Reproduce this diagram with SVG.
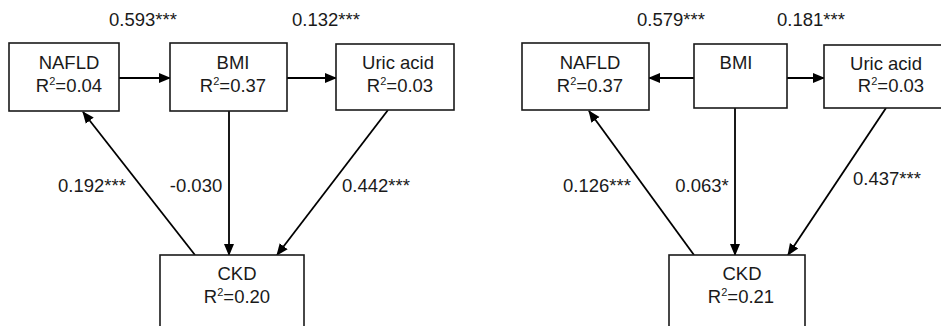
<svg xmlns="http://www.w3.org/2000/svg" width="941" height="326" viewBox="0 0 941 326">
<style>
text{font-family:"Liberation Sans",Arial,sans-serif;font-size:18.5px;fill:#1a1a1a}
.box{fill:#fff;stroke:#1a1a1a;stroke-width:1.6}
.c{text-anchor:middle}
.ln{stroke:#000;stroke-width:1.8;fill:none}
.lh{stroke:#000;stroke-width:2.2;fill:none}
</style>
<defs>
<marker id="ah" markerUnits="userSpaceOnUse" markerWidth="12" markerHeight="12" viewBox="0 0 12 10" refX="11" refY="5" orient="auto">
<path d="M0,0 L12,5 L0,10 z" fill="#000"/>
</marker>
</defs>
<rect width="941" height="326" fill="#fff"/>
<g id="connectors">
<line class="lh" x1="119" y1="78" x2="170" y2="78" marker-end="url(#ah)"/>
<line class="lh" x1="287" y1="78" x2="336" y2="78" marker-end="url(#ah)"/>
<line class="ln" x1="195" y1="255" x2="83" y2="112" marker-end="url(#ah)"/>
<line class="ln" x1="229" y1="111" x2="229" y2="255" marker-end="url(#ah)"/>
<line class="ln" x1="388" y1="110" x2="277" y2="255" marker-end="url(#ah)"/>
<line class="lh" x1="694" y1="78" x2="649" y2="78" marker-end="url(#ah)"/>
<line class="lh" x1="787" y1="78" x2="824" y2="78" marker-end="url(#ah)"/>
<line class="ln" x1="694" y1="255" x2="589" y2="111" marker-end="url(#ah)"/>
<line class="ln" x1="735" y1="108" x2="735" y2="255" marker-end="url(#ah)"/>
<line class="ln" x1="886" y1="108" x2="788" y2="255" marker-end="url(#ah)"/>
<text x="143" y="26" class="c">0.593***</text>
<text x="326" y="26" class="c">0.132***</text>
<text x="92" y="192" class="c">0.192***</text>
<text x="196" y="192" class="c">-0.030</text>
<text x="376" y="192" class="c">0.442***</text>
<text x="671" y="26" class="c">0.579***</text>
<text x="811" y="26" class="c">0.181***</text>
<text x="597" y="192" class="c">0.126***</text>
<text x="702" y="192" class="c">0.063*</text>
<text x="887" y="185" class="c">0.437***</text>
</g>
<g id="nafld1">
<rect class="box" x="9" y="43" width="110" height="68"/>
<text x="69" y="69" class="c">NAFLD</text>
<text x="69" y="92" class="c">R<tspan font-size="11" dy="-7">2</tspan><tspan dy="7">=0.04</tspan></text>
</g>
<g id="bmi1">
<rect class="box" x="170" y="43" width="117" height="68"/>
<text x="233" y="69" class="c">BMI</text>
<text x="233" y="92" class="c">R<tspan font-size="11" dy="-7">2</tspan><tspan dy="7">=0.37</tspan></text>
</g>
<g id="uric1">
<rect class="box" x="336" y="44" width="118" height="66"/>
<text x="398" y="69" class="c">Uric acid</text>
<text x="400" y="92" class="c">R<tspan font-size="11" dy="-7">2</tspan><tspan dy="7">=0.03</tspan></text>
</g>
<g id="ckd1">
<rect class="box" x="160" y="255" width="144" height="90"/>
<text x="237" y="280" class="c">CKD</text>
<text x="237" y="303" class="c">R<tspan font-size="11" dy="-7">2</tspan><tspan dy="7">=0.20</tspan></text>
</g>
<g id="nafld2">
<rect class="box" x="522" y="43" width="127" height="67"/>
<text x="590" y="69" class="c">NAFLD</text>
<text x="590" y="92" class="c">R<tspan font-size="11" dy="-7">2</tspan><tspan dy="7">=0.37</tspan></text>
</g>
<g id="bmi2">
<rect class="box" x="694" y="44" width="93" height="64"/>
<text x="736" y="69" class="c">BMI</text>
</g>
<g id="uric2">
<rect class="box" x="824" y="45" width="130" height="63"/>
<text x="886" y="70" class="c">Uric acid</text>
<text x="891" y="92" class="c">R<tspan font-size="11" dy="-7">2</tspan><tspan dy="7">=0.03</tspan></text>
</g>
<g id="ckd2">
<rect class="box" x="669" y="255" width="136" height="90"/>
<text x="742" y="280" class="c">CKD</text>
<text x="741" y="303" class="c">R<tspan font-size="11" dy="-7">2</tspan><tspan dy="7">=0.21</tspan></text>
</g>
</svg>
